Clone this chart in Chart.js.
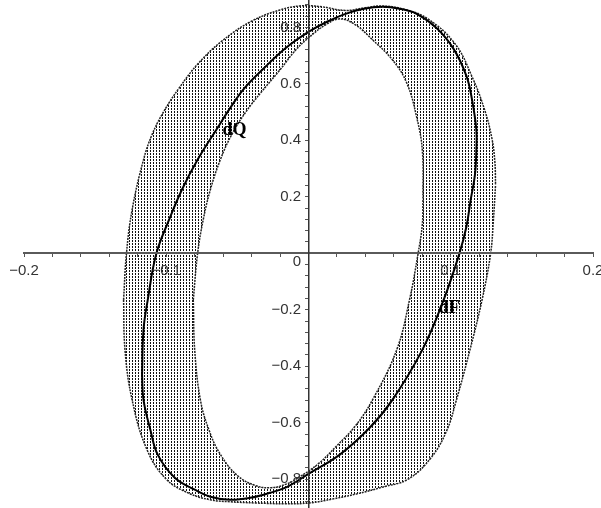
<!DOCTYPE html>
<html>
<head>
<meta charset="utf-8">
<script src="https://cdn.jsdelivr.net/npm/chart.js@4.4.1/dist/chart.umd.min.js"></script>
<style>
  html, body { margin: 0; background: #fff; }
  #wrap { position: relative; width: 601px; height: 508px; }
</style>
</head>
<body>
<div id="wrap"><canvas id="plot"></canvas></div>
<script>
'use strict';

// heavy loop, clockwise from its leftmost point
const loopPts = [
  [-0.117, -0.430], [-0.116, -0.271], [-0.113, -0.165], [-0.107, -0.002], [-0.098, 0.119],
  [-0.089, 0.225], [-0.078, 0.331], [-0.064, 0.444], [-0.055, 0.515], [-0.045, 0.585],
  [-0.031, 0.657], [-0.016, 0.727], [0.000, 0.784], [0.013, 0.820], [0.026, 0.848],
  [0.039, 0.866], [0.052, 0.873], [0.064, 0.866], [0.076, 0.848], [0.090, 0.798],
  [0.102, 0.724], [0.111, 0.628], [0.115, 0.543], [0.118, 0.437], [0.118, 0.366],
  [0.117, 0.278], [0.114, 0.189], [0.111, 0.094], [0.106, -0.002], [0.095, -0.165],
  [0.080, -0.342], [0.059, -0.519], [0.043, -0.618], [0.022, -0.713], [0.000, -0.781],
  [-0.015, -0.827], [-0.027, -0.848], [-0.041, -0.866], [-0.055, -0.873], [-0.069, -0.862],
  [-0.080, -0.837], [-0.094, -0.795], [-0.106, -0.713], [-0.111, -0.628], [-0.116, -0.519],
  [-0.117, -0.430]
];

// edges of the dotted band, each split at its left / right extremes
const outerTop = [
  [-0.130, -0.165], [-0.128, -0.002], [-0.124, 0.154], [-0.116, 0.331], [-0.110, 0.420],
  [-0.102, 0.500], [-0.091, 0.585], [-0.077, 0.675], [-0.060, 0.755], [-0.040, 0.822],
  [-0.020, 0.862], [-0.006, 0.876], [0.008, 0.874], [0.026, 0.860], [0.039, 0.869],
  [0.052, 0.876], [0.068, 0.863], [0.084, 0.830], [0.103, 0.742], [0.115, 0.625],
  [0.124, 0.505], [0.129, 0.405], [0.131, 0.325], [0.1315, 0.243]
];
const outerBottom = [
  [-0.130, -0.165], [-0.129, -0.342], [-0.124, -0.519], [-0.1135, -0.696], [-0.100, -0.800],
  [-0.084, -0.850], [-0.069, -0.873], [-0.055, -0.880], [-0.038, -0.884], [-0.017, -0.887],
  [0.001, -0.884], [0.017, -0.870], [0.034, -0.852], [0.052, -0.828], [0.070, -0.800],
  [0.086, -0.725], [0.097, -0.630], [0.104, -0.519], [0.1135, -0.342], [0.122, -0.165],
  [0.128, -0.002], [0.130, 0.119], [0.1315, 0.243]
];
const innerTop = [
  [-0.081, -0.165], [-0.078, -0.002], [-0.074, 0.119], [-0.069, 0.225], [-0.062, 0.331],
  [-0.054, 0.420], [-0.044, 0.501], [-0.033, 0.572], [-0.020, 0.650], [-0.009, 0.720],
  [0.000, 0.763], [0.012, 0.809], [0.022, 0.830], [0.033, 0.809], [0.045, 0.756],
  [0.059, 0.685], [0.069, 0.604], [0.076, 0.483], [0.080, 0.366], [0.0805, 0.189]
];
const innerBottom = [
  [-0.081, -0.165], [-0.080, -0.342], [-0.076, -0.519], [-0.070, -0.625], [-0.062, -0.712],
  [-0.050, -0.787], [-0.037, -0.823], [-0.026, -0.830], [-0.015, -0.816], [-0.006, -0.791],
  [0.007, -0.745], [0.020, -0.681], [0.033, -0.611], [0.045, -0.519], [0.062, -0.342],
  [0.071, -0.165], [0.077, -0.002], [0.080, 0.101], [0.0805, 0.189]
];

const curveNames = ['dQ', 'dF'];
const nameX = [-0.052, 0.099];
const nameY = [0.437, -0.196];

const xLabelTicks = [-0.2, -0.1, 0.1, 0.2];
const yLabelTicks = [-0.8, -0.6, -0.4, -0.2, 0, 0.2, 0.4, 0.6, 0.8];

function pts(a) { return a.map(([x, y]) => ({ x, y })); }
function has(list, v) { return list.some(t => Math.abs(t - v) < 1e-9); }
function fmt(v) { return v === 0 ? '0' : (v < 0 ? '\u2212' : '') + Math.abs(v).toFixed(1); }

// vertical dotted streaks, like the plotted family of curves
function hatch() {
  const tile = document.createElement('canvas');
  tile.width = 3; tile.height = 3;
  const g = tile.getContext('2d');
  g.fillStyle = '#111';
  g.fillRect(0, 0, 1, 2);
  return g.createPattern(tile, 'repeat');
}

function curve(data, extra) {
  return Object.assign({
    data: pts(data), showLine: true, pointRadius: 0, pointHoverRadius: 0,
    tension: 0.4, fill: false
  }, extra);
}

const edge = { borderColor: '#222', borderWidth: 1.5, borderDash: [2, 1] };
const tickFont = { family: '"Liberation Sans", Arial, sans-serif', size: 15 };

const curveNamesPlugin = {
  id: 'curveNames',
  afterDatasetsDraw(chart) {
    const { ctx, scales: { x, y } } = chart;
    ctx.save();
    ctx.font = 'bold 18px "Liberation Serif", "Times New Roman", serif';
    ctx.fillStyle = '#000';
    ctx.textAlign = 'center';
    ctx.textBaseline = 'middle';
    curveNames.forEach((name, i) => {
      ctx.fillText(name, x.getPixelForValue(nameX[i]), y.getPixelForValue(nameY[i]));
    });
    ctx.restore();
  }
};

function noPad(scale) {
  scale.paddingLeft = 0; scale.paddingRight = 0;
  scale.paddingTop = 0; scale.paddingBottom = 0;
}

new Chart(document.getElementById('plot').getContext('2d'), {
  type: 'scatter',
  data: {
    datasets: [
      curve(loopPts, { borderColor: '#000', borderWidth: 2, order: 1 }),
      curve(innerTop, Object.assign({ fill: 2, backgroundColor: '#fff', order: 3 }, edge)),
      curve(innerBottom, Object.assign({ order: 3 }, edge)),
      curve(outerTop, Object.assign({ fill: 4, backgroundColor: hatch(), order: 4 }, edge)),
      curve(outerBottom, Object.assign({ order: 4 }, edge))
    ]
  },
  options: {
    animation: false,
    responsive: true,
    maintainAspectRatio: false,
    devicePixelRatio: 1,
    layout: { padding: { left: 24, right: 8, top: 0, bottom: 0 } },
    plugins: {
      legend: { display: false },
      tooltip: { enabled: false },
      filler: { drawTime: 'beforeDatasetsDraw' }
    },
    scales: {
      x: {
        type: 'linear', min: -0.2, max: 0.2, position: { y: 0 },
        border: { color: '#5a5a5a', width: 2, z: 2 },
        grid: { drawOnChartArea: false, tickLength: 3, tickColor: '#555', tickWidth: 1, z: 2 },
        ticks: {
          stepSize: 0.02, autoSkip: false, maxRotation: 0, padding: 6, z: 2,
          color: '#333', font: tickFont,
          callback: v => has(xLabelTicks, v) ? fmt(v) : ''
        },
        afterFit: noPad
      },
      y: {
        type: 'linear', min: -0.902, max: 0.897, position: { x: 0 },
        border: { color: '#333', width: 1.5, z: 2 },
        grid: { drawOnChartArea: false, tickLength: 3, tickColor: '#555', tickWidth: 1, z: 2 },
        ticks: {
          stepSize: 0.04, autoSkip: false, includeBounds: false, padding: 6, z: 2,
          color: '#333', font: tickFont,
          // labels sit right-aligned on the axis, so a trailing en space gives the gap
          callback: v => {
            if (!has(yLabelTicks, v)) { return ''; }
            return v === 0 ? ['', '0\u2002'] : fmt(v) + '\u2002';
          }
        },
        afterFit: noPad
      }
    }
  },
  plugins: [curveNamesPlugin]
});
</script>
</body>
</html>
